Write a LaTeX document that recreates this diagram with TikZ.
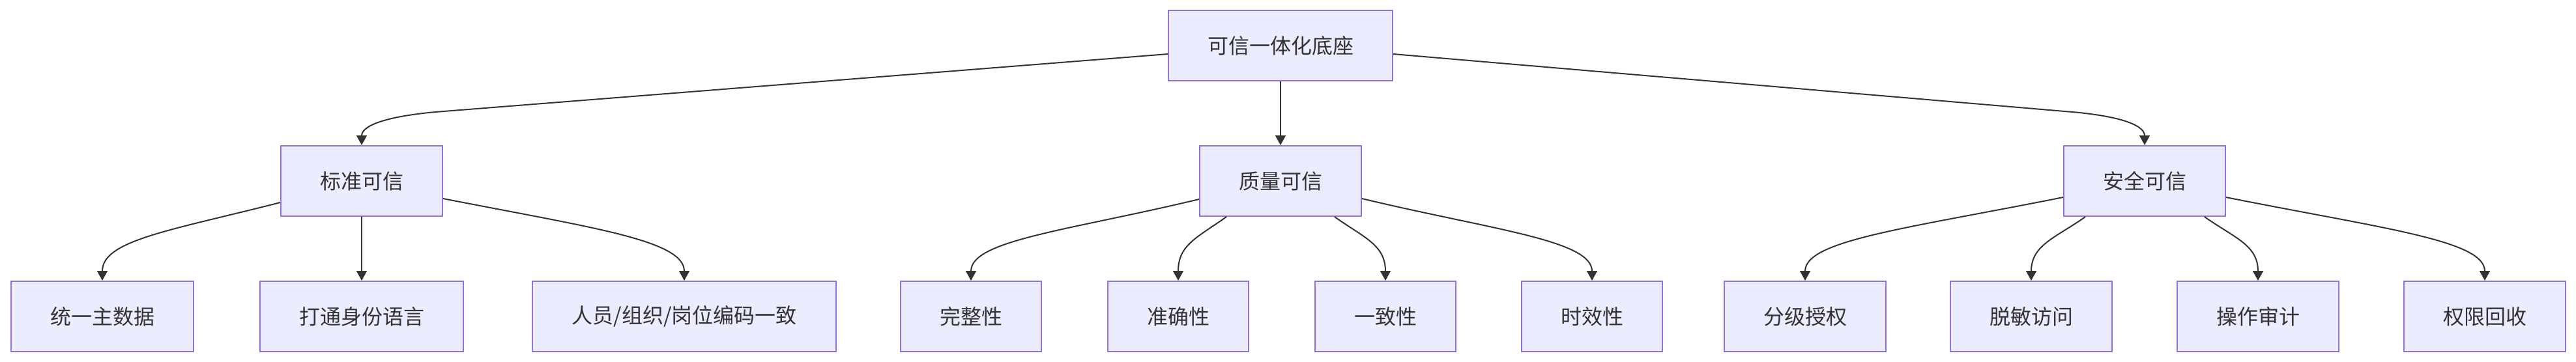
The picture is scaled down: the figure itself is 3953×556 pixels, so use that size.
\documentclass[tikz,border=0pt]{standalone}
\usepackage{fontspec}
\setmainfont{Noto Sans CJK SC}
\usepackage{tikz}
\usetikzlibrary{calc,arrows.meta}

\definecolor{boxfill}{HTML}{ECECFF}
\definecolor{boxline}{HTML}{9370DB}
\definecolor{inkgray}{HTML}{333333}

\begin{document}
\begin{tikzpicture}[x=0.5pt, y=-0.5pt, >={Triangle[length=7.5pt,width=8pt]},
        box/.style={draw=boxline, fill=boxfill, line width=1pt, text=inkgray,
            font=\fontsize{16pt}{19pt}\selectfont, minimum height=54pt, inner xsep=30pt},
        link/.style={->, draw=inkgray, line width=1pt}]
        \useasboundingbox (0,0) rectangle (3953,556);

        % Root
        \node[box] (root) at (1965,70) {可信一体化底座};

        % Second level
        \node[box] (stdT) at (555,278) {标准可信};
        \node[box] (qualT) at (1965,278) {质量可信};
        \node[box] (secT) at (3291,278) {安全可信};

        % Third level
        \node[box] (mdm) at (157,486) {统一主数据};
        \node[box] (idlang) at (555,486) {打通身份语言};
        \node[box] (codes) at (1050,486) {人员/组织/岗位编码一致};
        \node[box] (compl) at (1490,486) {完整性};
        \node[box] (accur) at (1808,486) {准确性};
        \node[box] (consis) at (2126,486) {一致性};
        \node[box] (timely) at (2443,486) {时效性};
        \node[box] (grade) at (2770,486) {分级授权};
        \node[box] (mask) at (3117,486) {脱敏访问};
        \node[box] (audit) at (3465,486) {操作审计};
        \node[box] (revoke) at (3813,486) {权限回收};

        % Root links
        \draw[link] ($(root.west)+(0,13)$) -- ++(-1111,88) .. controls +(-80,6) and +(0,-32) .. (stdT.north);
        \draw[link] (root.south) -- (qualT.north);
        \draw[link] ($(root.east)+(0,13)$) -- ++(1030,88) .. controls +(80,6) and +(0,-32) .. (secT.north);

        % Standard links
        \draw[link] ($(stdT.west)+(0,33)$) .. controls +(-168,43) and +(0,-62) .. (mdm.north);
        \draw[link] (stdT.south) -- (idlang.north);
        \draw[link] ($(stdT.east)+(0,27)$) .. controls +(229,45) and +(0,-62) .. (codes.north);

        % Quality links
        \draw[link] ($(qualT.west)+(0,28)$) .. controls +(-200,48) and +(0,-62) .. (compl.north);
        \draw[link] ($(qualT.south)+(-83,0)$) .. controls +(-45,32) and +(0,-55) .. (accur.north);
        \draw[link] ($(qualT.south)+(83,0)$) .. controls +(45,32) and +(0,-55) .. (consis.north);
        \draw[link] ($(qualT.east)+(0,27)$) .. controls +(200,48) and +(0,-62) .. (timely.north);

        % Security links
        \draw[link] ($(secT.west)+(0,25)$) .. controls +(-240,48) and +(0,-62) .. (grade.north);
        \draw[link] ($(secT.south)+(-91,0)$) .. controls +(-45,32) and +(0,-55) .. (mask.north);
        \draw[link] ($(secT.south)+(92,0)$) .. controls +(45,32) and +(0,-55) .. (audit.north);
        \draw[link] ($(secT.east)+(0,25)$) .. controls +(240,48) and +(0,-62) .. (revoke.north);
\end{tikzpicture}
\end{document}
